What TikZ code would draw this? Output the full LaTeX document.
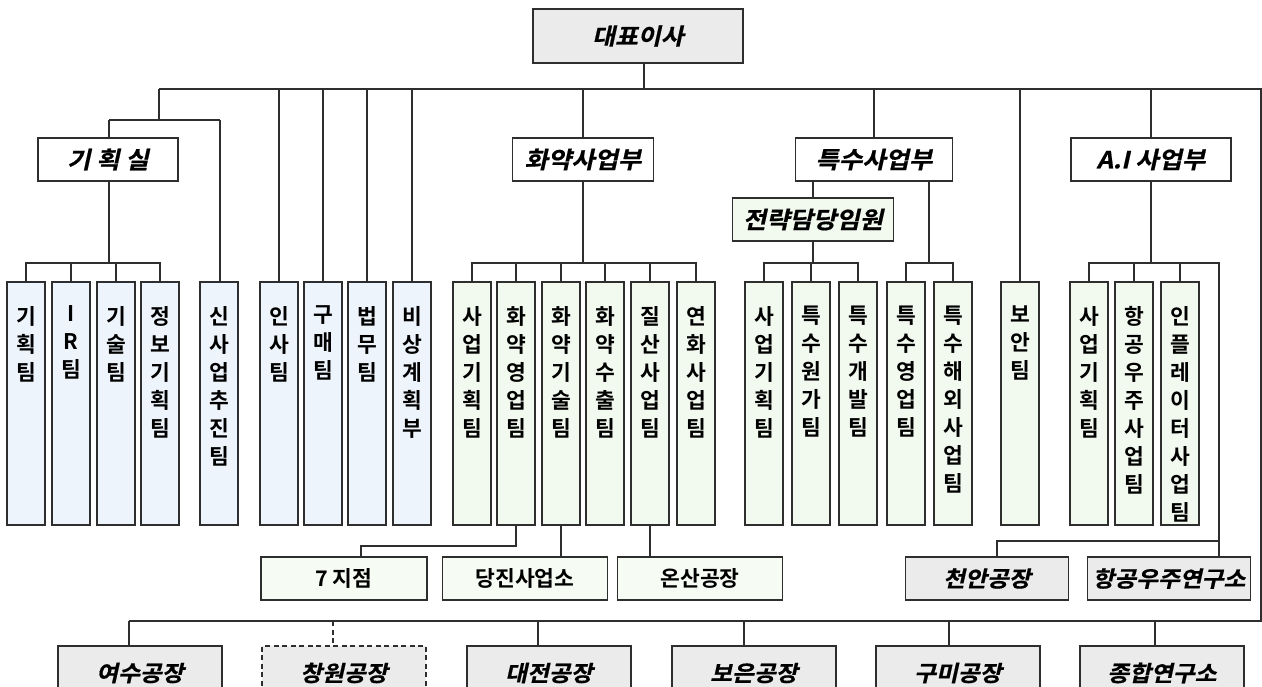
\documentclass[tikz,border=0pt]{standalone}
\usepackage{fontspec}
\newfontfamily\krB{Noto Sans CJK KR Bold}
\newfontfamily\krBI[FakeSlant=0.22,FakeStretch=1.08,FakeBold=0.6]{Noto Sans CJK KR Bold}
\definecolor{lc}{HTML}{2E2E2E}
\definecolor{grayF}{HTML}{EBEBEB}
\definecolor{blueF}{HTML}{EEF4FB}
\definecolor{greenF}{HTML}{F2F9EF}
\definecolor{midF}{HTML}{F6FBF3}
\newcommand\vt[1]{\parbox[c][195pt][t]{38pt}{\centering\krB\fontsize{21.5}{28}\selectfont #1}}
\newcommand\fTop{\krBI\fontsize{23}{27}\selectfont}
\newcommand\fSec{\krBI\fontsize{23.5}{27}\selectfont}
\newcommand\fBot{\krBI\fontsize{22}{26}\selectfont}
\newcommand\fMid{\krB\fontsize{21.5}{25}\selectfont}
\tikzset{
  ln/.style={draw=lc, line width=1.5pt},
  hb/.style={draw=lc, line width=1.5pt, inner sep=0pt, minimum height=43pt},
  vb/.style={draw=lc, line width=1.5pt, inner xsep=0pt, inner ysep=24pt, fill=#1},
  topbox/.style={hb, fill=grayF, font=\fTop},
  secbox/.style={hb, fill=white, font=\fSec},
  midbox/.style={hb, fill=midF, font=\fMid},
  plantbox/.style={hb, fill=grayF, font=\fBot},
  botbox/.style={hb, fill=grayF, font=\fBot, minimum height=54pt, minimum width=164pt}
}
\begin{document}
\begin{tikzpicture}[x=1pt,y=-1pt]
\useasboundingbox (0,0) rectangle (1262,686);
\clip (0,0) rectangle (1262,686);
\fill[white] (0,0) rectangle (1262,686);

% ---------- nodes ----------
\node[topbox, minimum width=210pt, minimum height=54pt] (ceo) at (638,36) {대표이사};

\node[secbox, minimum width=140pt] (kih) at (108,159.5) {기 획 실};
\node[secbox, minimum width=141pt] (hwa) at (583,159.5) {화약사업부};
\node[secbox, minimum width=157pt] (tek) at (874,159.5) {특수사업부};
\node[secbox, minimum width=160pt] (ai) at (1151,159.5) {A.I 사업부};
\node[hb, fill=greenF, font=\fSec, minimum width=161pt] (jeon) at (813,219.5) {전략담당임원};

% vertical boxes (y centre 403.5)
\node[vb=blueF] (k1) at (26,403.5) {\vt{기\\획\\팀}};
\node[vb=blueF] (k2) at (71,403.5) {\vt{I\\R\\팀}};
\node[vb=blueF] (k3) at (116,403.5) {\vt{기\\술\\팀}};
\node[vb=blueF] (k4) at (160,403.5) {\vt{정\\보\\기\\획\\팀}};
\node[vb=blueF] (sin) at (219,403.5) {\vt{신\\사\\업\\추\\진\\팀}};
\node[vb=blueF] (insa) at (279,403.5) {\vt{인\\사\\팀}};
\node[vb=blueF] (gume) at (323,403.5) {\vt{구\\매\\팀}};
\node[vb=blueF] (bup) at (367,403.5) {\vt{법\\무\\팀}};
\node[vb=blueF] (bis) at (412,403.5) {\vt{비\\상\\계\\획\\부}};

\node[vb=greenF] (h1) at (472,403.5) {\vt{사\\업\\기\\획\\팀}};
\node[vb=greenF] (h2) at (516,403.5) {\vt{화\\약\\영\\업\\팀}};
\node[vb=greenF] (h3) at (561,403.5) {\vt{화\\약\\기\\술\\팀}};
\node[vb=greenF] (h4) at (605,403.5) {\vt{화\\약\\수\\출\\팀}};
\node[vb=greenF] (h5) at (650,403.5) {\vt{질\\산\\사\\업\\팀}};
\node[vb=greenF] (h6) at (696,403.5) {\vt{연\\화\\사\\업\\팀}};

\node[vb=greenF] (t1) at (764,403.5) {\vt{사\\업\\기\\획\\팀}};
\node[vb=greenF] (t2) at (811,403.5) {\vt{특\\수\\원\\가\\팀}};
\node[vb=greenF] (t3) at (858,403.5) {\vt{특\\수\\개\\발\\팀}};
\node[vb=greenF] (t4) at (906,403.5) {\vt{특\\수\\영\\업\\팀}};
\node[vb=greenF] (t5) at (953,403.5) {\vt{특\\수\\해\\외\\사\\업\\팀}};

\node[vb=greenF] (boan) at (1020,403.5) {\vt{보\\안\\팀}};

\node[vb=greenF] (a1) at (1089,403.5) {\vt{사\\업\\기\\획\\팀}};
\node[vb=greenF] (a2) at (1134,403.5) {\vt{항\\공\\우\\주\\사\\업\\팀}};
\node[vb=greenF] (a3) at (1180,403.5) {\vt{인\\플\\레\\이\\터\\사\\업\\팀}};

% middle row
\node[midbox, minimum width=166pt] (jij) at (344,578.5) {7 지점};
\node[midbox, minimum width=165pt] (dang) at (525,578.5) {당진사업소};
\node[midbox, minimum width=165pt] (onsan) at (700,578.5) {온산공장};
\node[plantbox, minimum width=163pt] (cheon) at (987,578.5) {천안공장};
\node[plantbox, minimum width=163pt] (hang) at (1169,578.5) {항공우주연구소};

% bottom row
\node[botbox] (yeosu) at (140,673) {여수공장};
\node[botbox, dash pattern=on 5pt off 3.5pt] (chang) at (344,673) {창원공장};
\node[botbox] (daej) at (549,673) {대전공장};
\node[botbox] (boeun) at (754,673) {보은공장};
\node[botbox] (gumi) at (958,673) {구미공장};
\node[botbox] (jong) at (1162,673) {종합연구소};

% ---------- connectors ----------
\coordinate (bus0) at (644,89);
\coordinate (busL) at (159,89);
\coordinate (busR) at (1261,89);
\coordinate (bbR) at (1261,621);
\coordinate (bbL) at (129,621);
\draw[ln] (ceo.south -| bus0) -- (bus0);
\draw[ln] (busL) -- (busR) -- (bbR) -- (bbL);

% 기획실 branch
\coordinate (kL) at (109,120);
\coordinate (kR) at (220,120);
\draw[ln] (busL) -- (busL |- kL);
\draw[ln] (kL) -- (kR);
\draw[ln] (kL) -- (kL |- kih.north);
\draw[ln] (kR) -- (kR |- sin.north);
\coordinate (brA) at (109,263);
\draw[ln] (kih.south -| kL) -- (brA);
\draw[ln] (k1.north) -- (k1.north |- brA) -- (k4.north |- brA) -- (k4.north);
\draw[ln] (k2.north) -- (k2.north |- brA);
\draw[ln] (k3.north) -- (k3.north |- brA);

% direct staff
\draw[ln] (insa.north |- busL) -- (insa.north);
\draw[ln] (gume.north |- busL) -- (gume.north);
\draw[ln] (bup.north |- busL) -- (bup.north);
\draw[ln] (bis.north |- busL) -- (bis.north);
\draw[ln] (boan.north |- busL) -- (boan.north);

% 화약사업부
\coordinate (brB) at (583,263);
\draw[ln] (hwa.north |- busL) -- (hwa.north);
\draw[ln] (hwa.south) -- (brB);
\draw[ln] (h1.north) -- (h1.north |- brB) -- (h6.north |- brB) -- (h6.north);
\foreach \n in {h2,h3,h4,h5} \draw[ln] (\n.north) -- (\n.north |- brB);

% 특수사업부
\draw[ln] (tek.north |- busL) -- (tek.north);
\draw[ln] (jeon.north |- tek.south) -- (jeon.north);
\coordinate (brC) at (813,263);
\draw[ln] (jeon.south) -- (brC);
\draw[ln] (t1.north) -- (t1.north |- brC) -- (t3.north |- brC) -- (t3.north);
\draw[ln] (t2.north) -- (t2.north |- brC);
\coordinate (brD) at (929,263);
\draw[ln] (brD |- tek.south) -- (brD);
\draw[ln] (t4.north) -- (t4.north |- brD) -- (t5.north |- brD) -- (t5.north);

% A.I 사업부
\draw[ln] (ai.north |- busL) -- (ai.north);
\coordinate (brE) at (1151,263);
\coordinate (eR) at (1219,263);
\coordinate (fR) at (1219,541);
\coordinate (fL) at (997,541);
\draw[ln] (ai.south) -- (brE);
\draw[ln] (a1.north) -- (a1.north |- brE) -- (eR) -- (fR) -- (fL) -- (fL |- cheon.north);
\draw[ln] (a2.north) -- (a2.north |- brE);
\draw[ln] (a3.north) -- (a3.north |- brE);
\draw[ln] (fR) -- (fR |- hang.north);

% 화약 lower offices
\coordinate (g1) at (361,546);
\draw[ln] (h2.south) |- (g1) -- (g1 |- jij.north);
\draw[ln] (h3.south) -- (h3.south |- dang.north);
\draw[ln] (h5.south) -- (h5.south |- onsan.north);

% bottom plants
\coordinate (d2) at (333,621);
\coordinate (d3) at (538,621);
\coordinate (d4) at (744,621);
\coordinate (d5) at (949,621);
\coordinate (d6) at (1155,621);
\draw[ln] (bbL) -- (bbL |- yeosu.north);
\draw[ln, dash pattern=on 5pt off 3.5pt] (d2) -- (d2 |- chang.north);
\draw[ln] (d3) -- (d3 |- daej.north);
\draw[ln] (d4) -- (d4 |- boeun.north);
\draw[ln] (d5) -- (d5 |- gumi.north);
\draw[ln] (d6) -- (d6 |- jong.north);
\end{tikzpicture}
\end{document}
